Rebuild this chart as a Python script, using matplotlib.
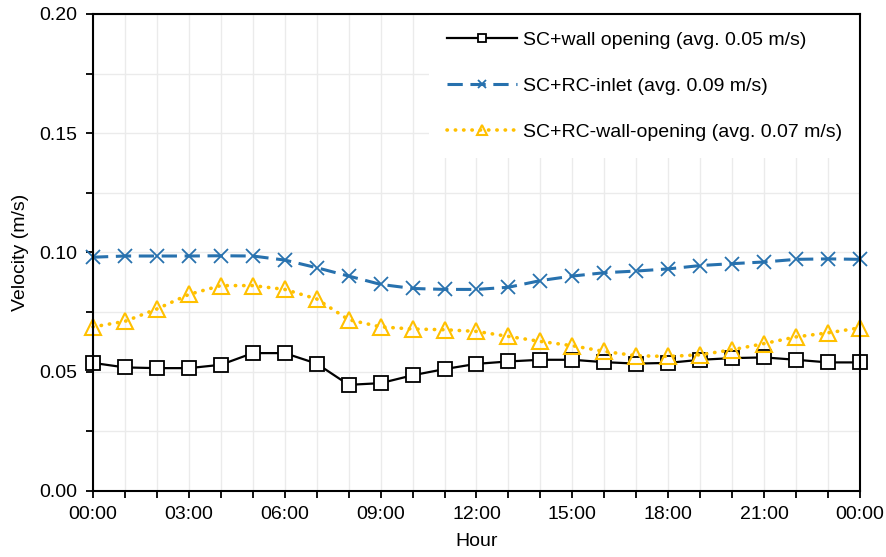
"""Hourly air velocity for three ventilation configurations."""

import matplotlib
matplotlib.use("Agg")
import matplotlib.pyplot as plt
import matplotlib.ticker as ticker
import numpy as np

# ---------------------------------------------------------------------------
# Data
# ---------------------------------------------------------------------------

HOURS = list(range(25))
TICK_LABELS = ["00:00", "03:00", "06:00", "09:00", "12:00",
               "15:00", "18:00", "21:00", "00:00"]

wall_opening = [0.0537, 0.0518, 0.0515, 0.0515, 0.0529, 0.0578, 0.0578,
                0.0534, 0.0445, 0.0452, 0.0485, 0.0511, 0.0533, 0.0543,
                0.0550, 0.0550, 0.0540, 0.0534, 0.0537, 0.0550, 0.0557,
                0.0560, 0.0550, 0.0539, 0.0539]

rc_inlet = [0.0980, 0.0985, 0.0985, 0.0985, 0.0986, 0.0985, 0.0968,
            0.0936, 0.0901, 0.0866, 0.0849, 0.0845, 0.0845, 0.0854,
            0.0882, 0.0901, 0.0915, 0.0922, 0.0931, 0.0945, 0.0953,
            0.0960, 0.0971, 0.0973, 0.0971]

rc_wall_opening = [0.0688, 0.0711, 0.0763, 0.0824, 0.0861, 0.0861, 0.0845,
                   0.0805, 0.0718, 0.0688, 0.0679, 0.0676, 0.0669, 0.0648,
                   0.0627, 0.0609, 0.0585, 0.0567, 0.0564, 0.0571, 0.0592,
                   0.0618, 0.0646, 0.0663, 0.0684]

LABELS = [
    "SC+wall opening (avg. 0.05 m/s)",
    "SC+RC-inlet (avg. 0.09 m/s)",
    "SC+RC-wall-opening (avg. 0.07 m/s)",
]

BLUE = "#2771AE"
YELLOW = "#FFC000"

# ---------------------------------------------------------------------------
# Plot
# ---------------------------------------------------------------------------

plt.rcParams["font.family"] = ["Liberation Sans", "DejaVu Sans"]

fig = plt.figure(figsize=(8.87, 5.57), dpi=100)
ax = fig.add_axes([0.1048, 0.1185, 0.8648, 0.8566])

ax.plot(HOURS, wall_opening, color="black", lw=1.6, marker="s", ms=10,
        mfc="white", mec="black", mew=1.3, label=LABELS[0], zorder=3,
        clip_on=False)
ax.plot(HOURS, rc_inlet, color=BLUE, lw=2.2, ls=(0, (5, 2.5)), marker="x",
        ms=10, mew=1.3, label=LABELS[1], zorder=3, clip_on=False)
ax.plot(HOURS, rc_wall_opening, color=YELLOW, lw=2.6, ls=(0, (0.1, 2.2)),
        dash_capstyle="round", marker="^", ms=12, mfc="none", mec=YELLOW,
        mew=1.5, label=LABELS[2], zorder=3, clip_on=False)

ax.set_xlim(0, 24)
ax.set_ylim(0, 0.20)

ax.xaxis.set_minor_locator(ticker.MultipleLocator(1))
ax.set_xticks(np.arange(0, 25, 3))
ax.set_xticklabels(TICK_LABELS)
ax.yaxis.set_major_locator(ticker.MultipleLocator(0.05))
ax.yaxis.set_minor_locator(ticker.MultipleLocator(0.025))
ax.yaxis.set_major_formatter(ticker.FormatStrFormatter("%.2f"))

ax.grid(which="both", color="#EBEBEB", lw=1.0, zorder=0)
ax.set_axisbelow(True)

ax.tick_params(which="both", direction="out", length=5, width=1.3,
               color="black", labelsize=14, pad=6)
for side in ax.spines.values():
    side.set_linewidth(1.5)
    side.set_color("black")
    side.set_zorder(6)

ax.set_xlabel("Hour", fontsize=14, labelpad=7)
ax.set_ylabel("Velocity (m/s)", fontsize=14, labelpad=8)

# legend: white box, no visible border (the lines at top/right are the spines)
leg = ax.legend(loc="upper right", fontsize=14, frameon=True, fancybox=False,
                borderaxespad=0.0, handlelength=3.6, markerscale=0.55,
                labelspacing=1.45, borderpad=0.9, handletextpad=0.35)
leg.get_frame().set_edgecolor("none")
leg.get_frame().set_facecolor("white")
leg.get_frame().set_alpha(1.0)
leg.set_zorder(5)

fig.savefig("out.png", dpi=100, facecolor="white")
plt.close(fig)
